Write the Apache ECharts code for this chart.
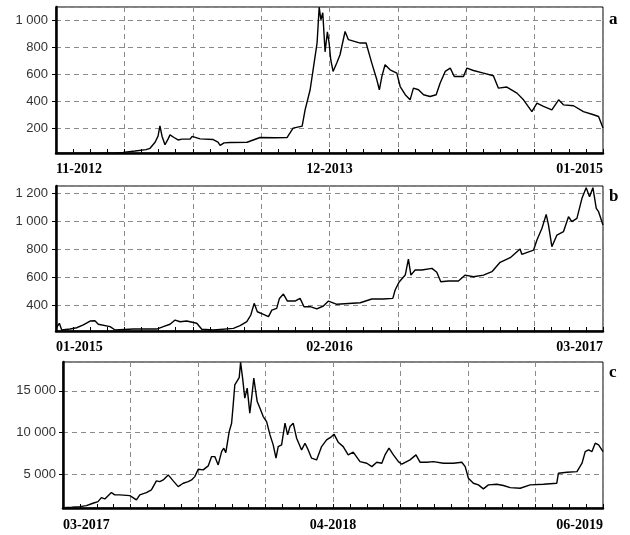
<!DOCTYPE html>
<html>
<head>
<meta charset="utf-8">
<script src="https://cdn.jsdelivr.net/npm/echarts@6.0.0/dist/echarts.min.js"></script>
<style>
	html,
	body {
		margin: 0;
		padding: 0;
		background: #fff;
	}
	#price_charts {
		width: 630px;
		height: 535px;
	}
</style>
</head>
<body>
<div id="price_charts"></div>
<script>
// 面板 a : 11-2012 .. 01-2015 (x = 距起始月数)
const monthsA = [0, 1.14, 2.09, 2.81, 3.19, 3.76, 4.28, 4.47, 4.71, 4.85, 4.94, 5.04, 5.18, 5.33, 5.42, 5.61, 5.8, 5.99, 6.37, 6.47, 6.85, 7.47, 7.7, 7.8, 7.99, 8.27, 9.08, 9.7, 10.41, 10.98, 11.27, 11.7, 11.84, 12.08, 12.22, 12.41, 12.51, 12.59, 12.68, 12.79, 12.9, 12.98, 13.06, 13.17, 13.35, 13.5, 13.74, 13.9, 14.06, 14.46, 14.74, 15.01, 15.25, 15.37, 15.49, 15.64, 15.88, 16.2, 16.36, 16.6, 16.83, 16.99, 17.23, 17.47, 17.78, 18.07, 18.26, 18.5, 18.74, 18.93, 19.37, 19.53, 19.84, 20.32, 20.79, 21.03, 21.43, 21.91, 22.22, 22.62, 22.86, 23.17, 23.57, 23.89, 24.12, 24.6, 25.07, 25.55, 25.79, 26]
const priceA = [11, 12, 13, 14, 20, 30, 40, 50, 95, 140, 217, 140, 76, 120, 150, 130, 112, 118, 118, 138, 120, 115, 95, 71, 90, 93, 95, 130, 128, 130, 200, 215, 336, 485, 633, 834, 1100, 1005, 1057, 767, 916, 834, 708, 621, 686, 745, 918, 857, 850, 832, 832, 683, 559, 485, 584, 671, 633, 609, 509, 448, 410, 497, 485, 448, 435, 448, 535, 621, 646, 584, 584, 646, 628, 609, 589, 497, 505, 460, 410, 323, 386, 361, 336, 410, 373, 366, 323, 299, 286, 200]
const xLabelsA = ['11-2012', '12-2013', '01-2015']

// 面板 b : 01-2015 .. 03-2017
const monthsB = [0, 0.16, 0.27, 0.67, 0.98, 1.3, 1.62, 1.85, 2.01, 2.57, 2.81, 3.68, 4.79, 5.1, 5.42, 5.66, 5.9, 6.21, 6.69, 6.93, 7.48, 8.43, 8.75, 9.07, 9.26, 9.42, 9.57, 9.86, 10.1, 10.26, 10.49, 10.62, 10.81, 11.0, 11.36, 11.6, 11.79, 12.08, 12.4, 12.71, 12.95, 13.35, 14.46, 15.01, 15.56, 16.01, 16.12, 16.32, 16.6, 16.75, 16.87, 17.07, 17.39, 17.87, 18.1, 18.29, 18.65, 19.13, 19.45, 19.84, 20.32, 20.72, 21.11, 21.59, 22.06, 22.14, 22.7, 22.86, 23.1, 23.3, 23.41, 23.57, 23.81, 24.12, 24.36, 24.52, 24.76, 25.0, 25.2, 25.36, 25.52, 25.68, 25.79, 26]
const priceB = [239, 275, 227, 234, 243, 263, 291, 293, 268, 251, 227, 234, 234, 251, 268, 298, 286, 291, 275, 232, 227, 239, 258, 286, 334, 417, 357, 339, 322, 369, 381, 452, 483, 433, 433, 452, 393, 393, 377, 398, 433, 410, 421, 448, 448, 452, 512, 571, 618, 732, 618, 654, 654, 666, 638, 571, 576, 576, 618, 606, 618, 642, 709, 742, 804, 766, 796, 868, 951, 1050, 974, 820, 903, 927, 1033, 998, 1022, 1164, 1240, 1176, 1240, 1093, 1069, 974]
const xLabelsB = ['01-2015', '02-2016', '03-2017']

// 面板 c : 03-2017 .. 06-2019
const monthsC = [0, 0.44, 0.84, 1.17, 1.5, 1.75, 1.92, 2.09, 2.42, 2.59, 2.84, 3.34, 3.5, 3.67, 3.84, 4.17, 4.42, 4.67, 4.84, 5.01, 5.26, 5.51, 5.76, 6.01, 6.26, 6.43, 6.59, 6.76, 7.01, 7.26, 7.43, 7.59, 7.76, 7.93, 8.04, 8.14, 8.31, 8.43, 8.51, 8.59, 8.68, 8.81, 8.88, 8.98, 9.09, 9.21, 9.34, 9.43, 9.54, 9.71, 9.85, 10.01, 10.18, 10.35, 10.51, 10.65, 10.76, 10.93, 11.1, 11.23, 11.35, 11.51, 11.68, 11.93, 12.1, 12.26, 12.43, 12.68, 12.93, 13.18, 13.43, 13.55, 13.76, 14.01, 14.26, 14.51, 14.85, 15.19, 15.44, 15.69, 15.94, 16.1, 16.3, 16.52, 16.77, 16.94, 17.35, 17.65, 17.85, 18.19, 18.52, 19.02, 19.52, 19.94, 20.11, 20.27, 20.52, 20.77, 21.02, 21.27, 21.69, 22.02, 22.36, 22.86, 23.36, 24.02, 24.69, 24.77, 25.2, 25.7, 25.95, 26.11, 26.28, 26.45, 26.61, 26.78, 27]
const priceC = [1000, 1050, 1115, 1235, 1523, 1715, 2195, 2040, 2794, 2518, 2518, 2434, 2195, 1918, 2518, 2794, 3118, 4197, 4113, 4317, 4916, 4197, 3513, 3921, 4113, 4317, 4712, 5600, 5520, 5995, 7110, 7110, 6115, 7710, 8117, 7590, 10108, 11115, 13310, 15707, 15507, 16590, 18400, 16510, 14111, 15311, 12314, 14111, 16510, 13705, 12914, 11906, 11307, 9712, 8513, 6918, 8309, 8513, 11115, 9712, 10710, 11115, 9316, 7914, 8717, 7914, 6918, 6715, 8309, 9113, 9508, 9796, 8837, 8309, 7314, 7638, 6511, 6319, 5911, 6439, 6319, 7314, 8117, 7314, 6511, 6199, 6715, 7314, 6439, 6439, 6511, 6319, 6319, 6439, 5911, 4520, 3921, 3717, 3237, 3717, 3800, 3650, 3394, 3320, 3717, 3800, 3921, 5120, 5240, 5312, 6319, 7710, 7914, 7710, 8717, 8513, 7710]
const xLabelsC = ['03-2017', '04-2018', '06-2019']

const panelNames = ['a', 'b', 'c']

// 每个面板的绘图区位置
const PANELS = [
	{ months: monthsA, price: priceA, labels: xLabelsA, span: 26, yMin: 15, yMax: 1100, split: 5, left: 56, top: 7, width: 547, height: 146, xMargin: 9, yMargin: 8 },
	{ months: monthsB, price: priceB, labels: xLabelsB, span: 26, yMin: 220, yMax: 1252, split: 5, left: 56, top: 186, width: 547, height: 145, xMargin: 9, yMargin: 8 },
	{ months: monthsC, price: priceC, labels: xLabelsC, span: 27, yMin: 950, yMax: 18450, split: 3, left: 63, top: 362, width: 540, height: 146, xMargin: 10, yMargin: 7 },
]
const TITLE_TOPS = [11, 188, 364]

const dashLine = { color: '#8a8a8a', type: [5, 4], width: 1 }

/** 千分位用空格 */
const fmtThousand = (val) => String(val).replace(/\B(?=(\d{3})+(?!\d))/g, ' ')

const grid = []
const xAxis = []
const yAxis = []
const series = []
const title = []

PANELS.forEach((p, i) => {
	grid.push({
		left: p.left,
		top: p.top,
		width: p.width,
		height: p.height,
		show: true,
		borderColor: '#000',
		borderWidth: 1,
		outerBoundsMode: 'none',
	})
	xAxis.push({
		type: 'value',
		gridIndex: i,
		min: 0,
		max: p.span,
		interval: p.span / 8,
		axisLine: { onZero: false, lineStyle: { color: '#000', width: 2.5 } },
		axisTick: { show: true, inside: true, length: 4, lineStyle: { color: '#000' } },
		minorTick: { show: true, splitNumber: 4, length: 4, lineStyle: { color: '#000' } },
		splitLine: { show: true, lineStyle: dashLine },
		axisLabel: {
			margin: p.xMargin,
			color: '#000',
			fontFamily: 'Liberation Serif',
			fontWeight: 'bold',
			fontSize: 14,
			alignMinLabel: 'left',
			alignMaxLabel: 'right',
			formatter: (val) => {
				if (Math.abs(val) < 1e-6) return p.labels[0]
				if (Math.abs(val - p.span / 2) < 1e-6) return p.labels[1]
				if (Math.abs(val - p.span) < 1e-6) return p.labels[2]
				return ''
			},
		},
	})
	yAxis.push({
		type: 'value',
		gridIndex: i,
		min: p.yMin,
		max: p.yMax,
		splitNumber: p.split,
		axisLine: { show: true, onZero: false, lineStyle: { color: '#000', width: 2.5 } },
		axisTick: { show: true, length: 4, lineStyle: { color: '#000' } },
		splitLine: { show: true, lineStyle: dashLine },
		axisLabel: {
			margin: p.yMargin,
			color: '#333',
			fontFamily: 'Liberation Sans',
			fontSize: 13,
			showMinLabel: false,
			showMaxLabel: false,
			formatter: fmtThousand,
		},
	})
	series.push({
		type: 'line',
		xAxisIndex: i,
		yAxisIndex: i,
		data: p.months.map((m, k) => [m, p.price[k]]),
		showSymbol: false,
		lineStyle: { color: '#000', width: 1.4 },
		animation: false,
	})
	title.push({
		text: panelNames[i],
		left: 609,
		top: TITLE_TOPS[i],
		padding: 0,
		textStyle: { fontFamily: 'Liberation Serif', fontWeight: 'bold', fontSize: 17, color: '#000' },
	})
})

const myChart = echarts.init(document.getElementById('price_charts'))
myChart.setOption({
	backgroundColor: '#fff',
	animation: false,
	title,
	grid,
	xAxis,
	yAxis,
	series,
})
</script>
</body>
</html>
